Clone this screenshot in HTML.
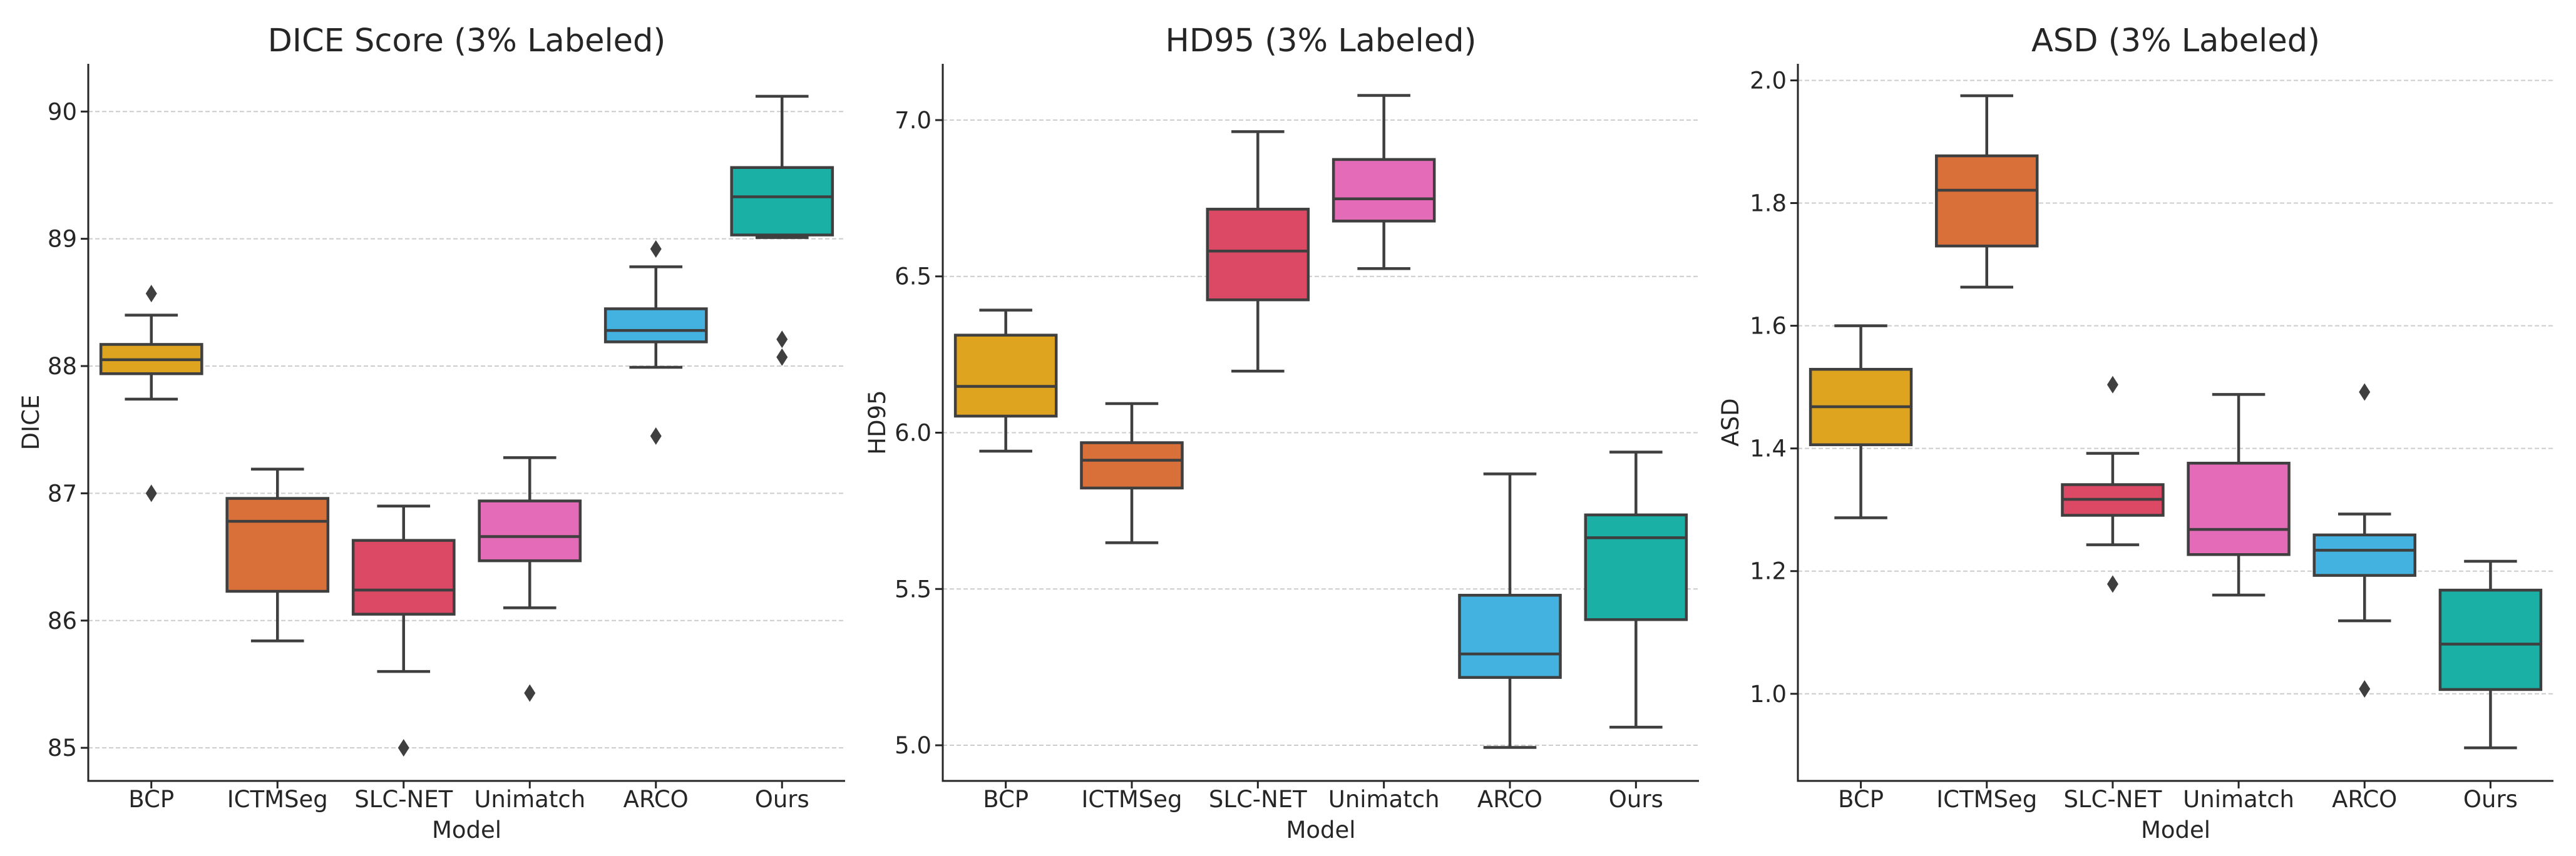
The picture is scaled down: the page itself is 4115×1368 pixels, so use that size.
<!DOCTYPE html>
<html><head><meta charset="utf-8">
<style>
html,body{margin:0;padding:0;background:#fff;}
svg{display:block;font-family:"DejaVu Sans","Liberation Sans",sans-serif;}
</style></head>
<body>
<svg id="chart" width="4115" height="1368" viewBox="0 0 4115 1368" xmlns="http://www.w3.org/2000/svg"></svg>
<script>
const categories = ["BCP","ICTMSeg","SLC-NET","Unimatch","ARCO","Ours"];
const colors = ["#DEA31F","#D9703A","#DC4965","#E46BB7","#43B2E0","#1AB0A5"];
// [lowWhisker, q1, median, q3, highWhisker]
const diceStats = [[87.74,87.94,88.05,88.17,88.40],[85.84,86.23,86.78,86.96,87.19],[85.60,86.05,86.24,86.63,86.90],[86.10,86.47,86.66,86.94,87.28],[87.99,88.19,88.28,88.45,88.78],[89.01,89.03,89.33,89.56,90.12]];
const diceOutliers = [[88.57,87.0],[],[85.0],[85.43],[88.92,87.45],[88.21,88.07]];
const diceTicks = [85,86,87,88,89,90];
const hdStats = [[5.941,6.053,6.148,6.312,6.392],[5.648,5.823,5.912,5.968,6.093],[6.197,6.425,6.581,6.715,6.963],[6.525,6.677,6.748,6.874,7.079],[4.993,5.217,5.292,5.480,5.868],[5.058,5.402,5.664,5.737,5.938]];
const hdOutliers = [[],[],[],[],[],[]];
const hdTicks = [5.0,5.5,6.0,6.5,7.0];
const asdStats = [[1.287,1.406,1.468,1.529,1.600],[1.663,1.730,1.821,1.877,1.975],[1.243,1.291,1.317,1.341,1.392],[1.161,1.227,1.268,1.376,1.488],[1.119,1.193,1.234,1.259,1.293],[0.912,1.007,1.081,1.169,1.216]];
const asdOutliers = [[],[],[1.504,1.179],[],[1.492,1.008],[]];
const asdTicks = [1.0,1.2,1.4,1.6,1.8,2.0];

const svg = document.getElementById('chart');
const NS = 'http://www.w3.org/2000/svg';
function mk(tag, attrs, parent){
  const e = document.createElementNS(NS, tag);
  for (const k in attrs) e.setAttribute(k, attrs[k]);
  (parent||svg).appendChild(e);
  return e;
}
const panels = [
  {key:'dice', title:'DICE Score (3% Labeled)', ylabel:'DICE', left:141, right:1350, ymin:84.74, ymax:90.375, stats:diceStats, outliers:diceOutliers, ticks:diceTicks, dec:0, ylx:49},
  {key:'hd95', title:'HD95 (3% Labeled)', ylabel:'HD95', left:1506, right:2714, ymin:4.886, ymax:7.18, stats:hdStats, outliers:hdOutliers, ticks:hdTicks, dec:1, ylx:1401},
  {key:'asd', title:'ASD (3% Labeled)', ylabel:'ASD', left:2872, right:4079, ymin:0.858, ymax:2.027, stats:asdStats, outliers:asdOutliers, ticks:asdTicks, dec:1, ylx:2764}
];
const TOP=102, BOT=1248, LC='#3f3f3f';
panels.forEach(p=>{
  const g = mk('g',{});
  
  
  const y = v => BOT - (v - p.ymin)/(p.ymax - p.ymin)*(BOT-TOP);
  const step = (p.right - p.left)/categories.length;
  const x = i => p.left + step*(i+0.5);
  p.ticks.forEach(t=>{
    const gl = mk('line',{x1:p.left,x2:p.right,y1:y(t),y2:y(t),stroke:'#cccccc','stroke-width':2,'stroke-dasharray':'7,4'},g);
    
    
    mk('line',{x1:p.left-12,x2:p.left,y1:y(t),y2:y(t),stroke:'#262626','stroke-width':3},g);
    const tl = mk('text',{x:p.left-18,y:y(t)+13,'text-anchor':'end','font-size':37,fill:'#262626'},g);
    tl.textContent = t.toFixed(p.dec);
    
    
  });
  const bw = step*0.8, cw = step*0.42;
  p.stats.forEach((s,i)=>{
    const cx = x(i);
    const bg = mk('g',{},g);
    
    
    mk('line',{x1:cx,x2:cx,y1:y(s[0]),y2:y(s[1]),stroke:LC,'stroke-width':4.5},bg);
    mk('line',{x1:cx,x2:cx,y1:y(s[3]),y2:y(s[4]),stroke:LC,'stroke-width':4.5},bg);
    mk('line',{x1:cx-cw/2,x2:cx+cw/2,y1:y(s[0]),y2:y(s[0]),stroke:LC,'stroke-width':4.5},bg);
    mk('line',{x1:cx-cw/2,x2:cx+cw/2,y1:y(s[4]),y2:y(s[4]),stroke:LC,'stroke-width':4.5},bg);
    mk('rect',{x:cx-bw/2,y:y(s[3]),width:bw,height:y(s[1])-y(s[3]),fill:colors[i],stroke:LC,'stroke-width':4.5},bg);
    mk('line',{x1:cx-bw/2,x2:cx+bw/2,y1:y(s[2]),y2:y(s[2]),stroke:LC,'stroke-width':4.5},bg);
    p.outliers[i].forEach(o=>{
      const oy = y(o);
      const d = mk('polygon',{points:`${cx},${oy-14} ${cx+9},${oy} ${cx},${oy+14} ${cx-9},${oy}`,fill:LC},bg);
      
      
    });
    mk('line',{x1:cx,x2:cx,y1:BOT,y2:BOT+12,stroke:'#262626','stroke-width':3},g);
    const xl = mk('text',{x:cx,y:1290,'text-anchor':'middle','font-size':37,fill:'#262626'},g);
    xl.textContent = categories[i];
    
    
  });
  mk('line',{x1:p.left,x2:p.left,y1:TOP,y2:BOT+1.5,stroke:'#262626','stroke-width':3},g);
  mk('line',{x1:p.left-1.5,x2:p.right,y1:BOT,y2:BOT,stroke:'#262626','stroke-width':3},g);
  const title = mk('text',{x:(p.left+p.right)/2,y:82,'text-anchor':'middle','font-size':51,fill:'#262626'},g);
  title.textContent = p.title;
  
  
  const xt = mk('text',{x:(p.left+p.right)/2,y:1339,'text-anchor':'middle','font-size':37,fill:'#262626'},g);
  xt.textContent = 'Model';
  
  
  const yt = mk('text',{x:0,y:0,'text-anchor':'middle','font-size':37,fill:'#262626',transform:`translate(${p.ylx+13},${(TOP+BOT)/2}) rotate(-90)`},g);
  yt.textContent = p.ylabel;
  
  
});
</script>
</body></html>
